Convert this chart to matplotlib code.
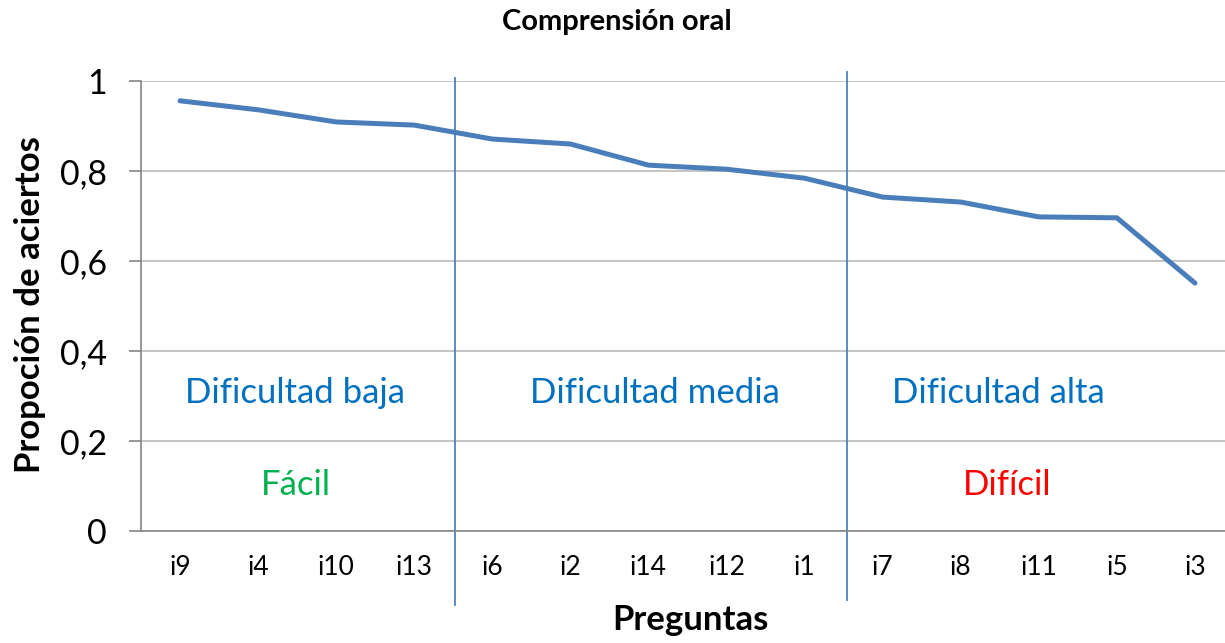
import matplotlib
matplotlib.use('Agg')
import matplotlib.pyplot as plt

preguntas = ['i9', 'i4', 'i10', 'i13', 'i6', 'i2', 'i14', 'i12', 'i1',
             'i7', 'i8', 'i11', 'i5', 'i3']
aciertos = [0.956, 0.936, 0.909, 0.902, 0.871, 0.860, 0.813, 0.804, 0.784,
            0.742, 0.731, 0.698, 0.696, 0.551]
y_ticks = [0, 0.2, 0.4, 0.6, 0.8, 1]
y_labels = ['0', '0,2', '0,4', '0,6', '0,8', '1']

# cortes entre grupos de dificultad
cortes = [3.52, 8.54]
grupos = ['Dificultad baja', 'Dificultad media', 'Dificultad alta']
grupos_x = [1.47, 6.08, 10.48]

plt.rcParams['font.family'] = ['Lato', 'DejaVu Sans']

fig = plt.figure(figsize=(12.25, 6.43), dpi=100)
ax = fig.add_axes([141 / 1225, 1 - 531 / 643, 1093 / 1225, 450 / 643])

x = list(range(len(preguntas)))
ax.plot(x, aciertos, color='#4A7EBB', lw=3.6, solid_capstyle='round',
        solid_joinstyle='round', zorder=3)

ax.set_xlim(-0.5, len(preguntas) - 0.5)
ax.set_ylim(0, 1)
ax.set_xticks(x)
ax.set_xticklabels(preguntas, fontsize=19)
ax.set_yticks(y_ticks)
ax.set_yticklabels(y_labels, fontsize=24.5)
ax.tick_params(axis='x', length=0, pad=17)
ax.tick_params(axis='y', length=8.6, color='#868686', width=1.2, pad=16)

ax.grid(axis='y', color='#BFBFBF', lw=1.3)
ax.set_axisbelow(True)
for s in ['top', 'right']:
    ax.spines[s].set_visible(False)
for s in ['left', 'bottom']:
    ax.spines[s].set_color('#868686')
    ax.spines[s].set_linewidth(1.2)

# lineas verticales de separacion
ax.plot([cortes[0], cortes[0]], [1.007, -0.164], color='#4F81BD', lw=1.3,
        clip_on=False, zorder=2)
ax.plot([cortes[1], cortes[1]], [1.02, -0.153], color='#4F81BD', lw=1.3,
        clip_on=False, zorder=2)

for g, gx in zip(grupos, grupos_x):
    ax.text(gx, 0.307, g, color='#0070C0', fontsize=25, ha='center', va='center')
ax.text(1.49, 0.102, 'Fácil', color='#00B050', fontsize=25, ha='center', va='center')
ax.text(10.6, 0.102, 'Difícil', color='#FF0000', fontsize=25, ha='center', va='center')

fig.text(30 / 1225, 1 - 305 / 643, 'Propoción de aciertos', fontsize=25,
         fontweight='bold', rotation=90, ha='center', va='center')
fig.text(690 / 1225, 1 - 620 / 643, 'Preguntas', fontsize=25,
         fontweight='bold', ha='center', va='center')
fig.text(617 / 1225, 1 - 22 / 643, 'Comprensión oral', fontsize=21,
         fontweight='bold', ha='center', va='center')

fig.savefig('out.png', dpi=100)
